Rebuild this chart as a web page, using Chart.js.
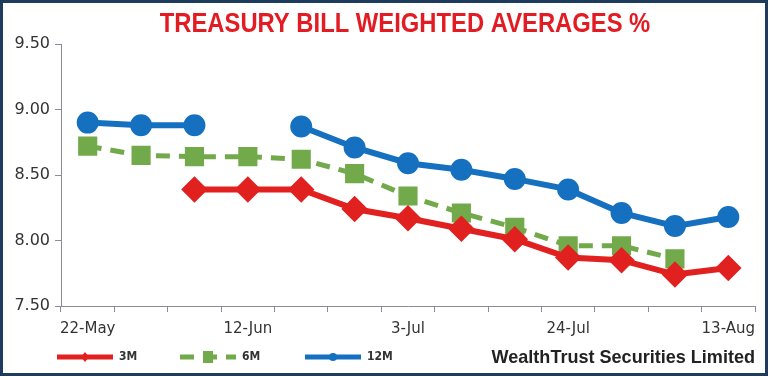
<!DOCTYPE html>
<html>
<head>
<meta charset="utf-8">
<script src="https://cdn.jsdelivr.net/npm/chart.js@4"></script>
<style>
  html, body { margin: 0; padding: 0; background: #fff; }
  #wrap { position: relative; width: 770px; height: 380px; }
</style>
</head>
<body>
<div id="wrap"><canvas id="tbill" width="770" height="380"></canvas></div>
<script>
// ---- data ----
const labels = ['22-May', '29-May', '5-Jun', '12-Jun', '19-Jun', '26-Jun', '3-Jul',
  '10-Jul', '17-Jul', '24-Jul', '31-Jul', '7-Aug', '13-Aug'];
const rate3M = [null, null, 8.39, 8.39, 8.39, 8.24, 8.17, 8.09, 8.01, 7.87, 7.85, 7.74, 7.79];
const rate6M = [8.72, 8.65, 8.64, 8.64, 8.62, 8.51, 8.34, 8.21, 8.10, 7.96, 7.96, 7.86, null];
const rate12M = [8.90, 8.88, 8.88, null, 8.87, 8.71, 8.59, 8.54, 8.47, 8.39, 8.21, 8.11, 8.18];
const yTicks = [7.5, 8.0, 8.5, 9.0, 9.5];

const TITLE = 'TREASURY BILL WEIGHTED AVERAGES %';
const SOURCE = 'WealthTrust Securities Limited';

const RED = '#e1211f';
const GREEN = '#72aa4b';
const BLUE = '#1570c0';
const AXIS = '#8a8a98';

// draw text squeezed horizontally (the original uses a condensed face)
function squeezed(c, text, x, y, sx) {
  c.save();
  c.translate(x, y);
  c.scale(sx, 1);
  c.fillText(text, 0, 0);
  c.restore();
}

// title, frame, legend and source line drawn on the canvas
const decor = {
  id: 'decor',
  afterDraw(chart) {
    const c = chart.ctx;
    const { right } = chart.chartArea;
    c.save();

    // frame
    c.strokeStyle = '#1d3b5c';
    c.lineWidth = 3;
    c.strokeRect(1.5, 1.5, 765, 373);

    // title
    c.fillStyle = '#e31b23';
    c.font = "bold 28px 'Liberation Sans', sans-serif";
    c.textAlign = 'center';
    c.textBaseline = 'middle';
    squeezed(c, TITLE, 405, 24, 0.85);

    // legend
    const ly = 357;
    const xs = [57, 180, 305];
    chart.data.datasets.forEach((ds, i) => {
      const x0 = xs[i];
      c.strokeStyle = ds.borderColor;
      c.lineWidth = 5;
      c.setLineDash(ds.borderDash || []);
      c.beginPath();
      c.moveTo(x0, ly);
      c.lineTo(x0 + 56, ly);
      c.stroke();
      c.setLineDash([]);
      c.fillStyle = ds.borderColor;
      const mx = x0 + 28;
      c.beginPath();
      if (ds.pointStyle === 'rectRot') {
        c.moveTo(mx, ly - 5); c.lineTo(mx + 4, ly); c.lineTo(mx, ly + 5); c.lineTo(mx - 4, ly);
      } else if (ds.pointStyle === 'rect') {
        c.rect(mx - 5, ly - 6, 10, 12);
      } else {
        c.arc(mx, ly, 4, 0, Math.PI * 2);
      }
      c.fill();
      c.fillStyle = '#333';
      c.font = "bold 12px 'DejaVu Sans', sans-serif";
      c.textAlign = 'left';
      squeezed(c, ds.label, x0 + 62, ly, 0.9);
    });

    // source
    c.fillStyle = '#222';
    c.font = "bold 19px 'Liberation Sans', sans-serif";
    c.textAlign = 'right';
    squeezed(c, SOURCE, right, ly + 1, 0.95);
    c.restore();
  }
};

new Chart(document.getElementById('tbill'), {
  type: 'line',
  data: {
    labels,
    datasets: [
      {
        label: '3M',
        data: rate3M,
        borderColor: RED,
        backgroundColor: RED,
        borderWidth: 6,
        pointStyle: 'rectRot',
        pointRadius: 9,
        spanGaps: false,
      },
      {
        label: '6M',
        data: rate6M,
        borderColor: GREEN,
        backgroundColor: GREEN,
        borderWidth: 5,
        borderDash: [14, 9],
        pointStyle: 'rect',
        pointRadius: 10,
        spanGaps: false,
      },
      {
        label: '12M',
        data: rate12M,
        borderColor: BLUE,
        backgroundColor: BLUE,
        borderWidth: 6,
        pointStyle: 'circle',
        pointRadius: 8,
        spanGaps: false,
      },
    ],
  },
  options: {
    responsive: false,
    animation: false,
    layout: { padding: { top: 44, right: 13, bottom: 40, left: 0 } },
    scales: {
      x: {
        offset: true,
        grid: { offset: true, drawOnChartArea: false, drawTicks: true, tickLength: 6, color: AXIS },
        border: { color: AXIS, width: 1 },
        ticks: {
          autoSkip: false,
          maxRotation: 0,
          padding: 8,
          color: '#333',
          font: { family: "'DejaVu Sans', sans-serif", size: 15 },
          callback: (v, i) => (i % 3 === 0 ? labels[i] : ''),
        },
        afterFit: s => { s.height = 34; },
      },
      y: {
        min: 7.5,
        max: 9.5,
        afterBuildTicks: s => { s.ticks = yTicks.map(v => ({ value: v })); },
        grid: { drawOnChartArea: false, drawTicks: true, tickLength: 6, color: AXIS },
        border: { color: AXIS, width: 1 },
        ticks: {
          padding: 5,
          color: '#333',
          font: { family: "'DejaVu Sans', sans-serif", size: 16 },
          callback: v => v.toFixed(2),
        },
        afterFit: s => { s.width = 61; },
      },
    },
    plugins: {
      legend: { display: false },
      tooltip: { enabled: false },
    },
  },
  plugins: [decor],
});
</script>
</body>
</html>
